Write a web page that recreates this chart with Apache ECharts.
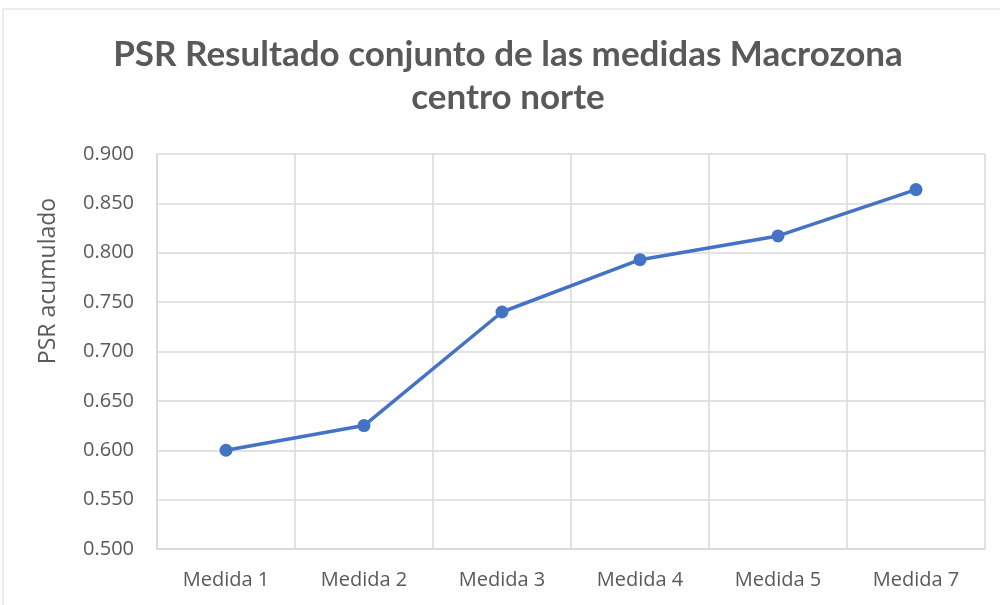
<!DOCTYPE html>
<html>
<head>
<meta charset="utf-8">
<style>
  html, body { margin: 0; padding: 0; background: #fff; }
  #chart { width: 1000px; height: 605px; }
</style>
<script src="https://cdn.jsdelivr.net/npm/echarts@6/dist/echarts.min.js"></script>
</head>
<body>
<div id="chart"></div>
<script>
var categories = ["Medida 1", "Medida 2", "Medida 3", "Medida 4", "Medida 5", "Medida 7"];
var psrValues = [0.600, 0.625, 0.740, 0.793, 0.817, 0.864];
var yMin = 0.5, yMax = 0.9, yStep = 0.05;

var textColor = "#595959";
var gridColor = "#d9d9d9";
var titleFont = "Lato, 'Open Sans', sans-serif";
var labelFont = "'Open Sans', sans-serif";

var chart = echarts.init(document.getElementById("chart"));
chart.setOption({
    animation: false,
    backgroundColor: "#fff",
    title: {
        text: "PSR Resultado conjunto de las medidas Macrozona\ncentro norte",
        left: 508,
        textAlign: "center",
        top: 33,
        padding: 0,
        textStyle: {
            color: textColor,
            fontFamily: titleFont,
            fontWeight: "bold",
            fontSize: 35,
            lineHeight: 43
        }
    },
    graphic: [{
        type: "rect",
        shape: { x: 3, y: 9, width: 1010, height: 610 },
        style: { fill: "none", stroke: gridColor, lineWidth: 1 },
        silent: true
    }, {
        type: "text",
        x: 48,
        y: 281,
        rotation: Math.PI / 2,
        style: {
            text: "PSR acumulado",
            fill: textColor,
            font: "23px " + labelFont,
            align: "center",
            verticalAlign: "middle"
        }
    }],
    grid: { left: 157, right: 15, top: 154, bottom: 56 },
    xAxis: {
        type: "category",
        data: categories,
        boundaryGap: true,
        axisTick: { show: false },
        axisLine: { lineStyle: { color: gridColor, width: 1.5 } },
        splitLine: { show: true, lineStyle: { color: gridColor, width: 1.5 } },
        axisLabel: { color: textColor, fontFamily: labelFont, fontSize: 20, margin: 21 }
    },
    yAxis: {
        type: "value",
        min: yMin,
        max: yMax,
        interval: yStep,
        axisLine: { show: true, lineStyle: { color: gridColor, width: 1.5 } },
        axisTick: { show: false },
        splitLine: { lineStyle: { color: gridColor, width: 1.5 } },
        axisLabel: {
            color: textColor,
            fontFamily: labelFont,
            fontSize: 20,
            margin: 23,
            formatter: function (v) { return v.toFixed(3); }
        }
    },
    series: [{
        type: "line",
        data: psrValues,
        symbol: "circle",
        symbolSize: 13,
        lineStyle: { color: "#4472C4", width: 3.5 },
        itemStyle: { color: "#4472C4" }
    }]
});
</script>
</body>
</html>
